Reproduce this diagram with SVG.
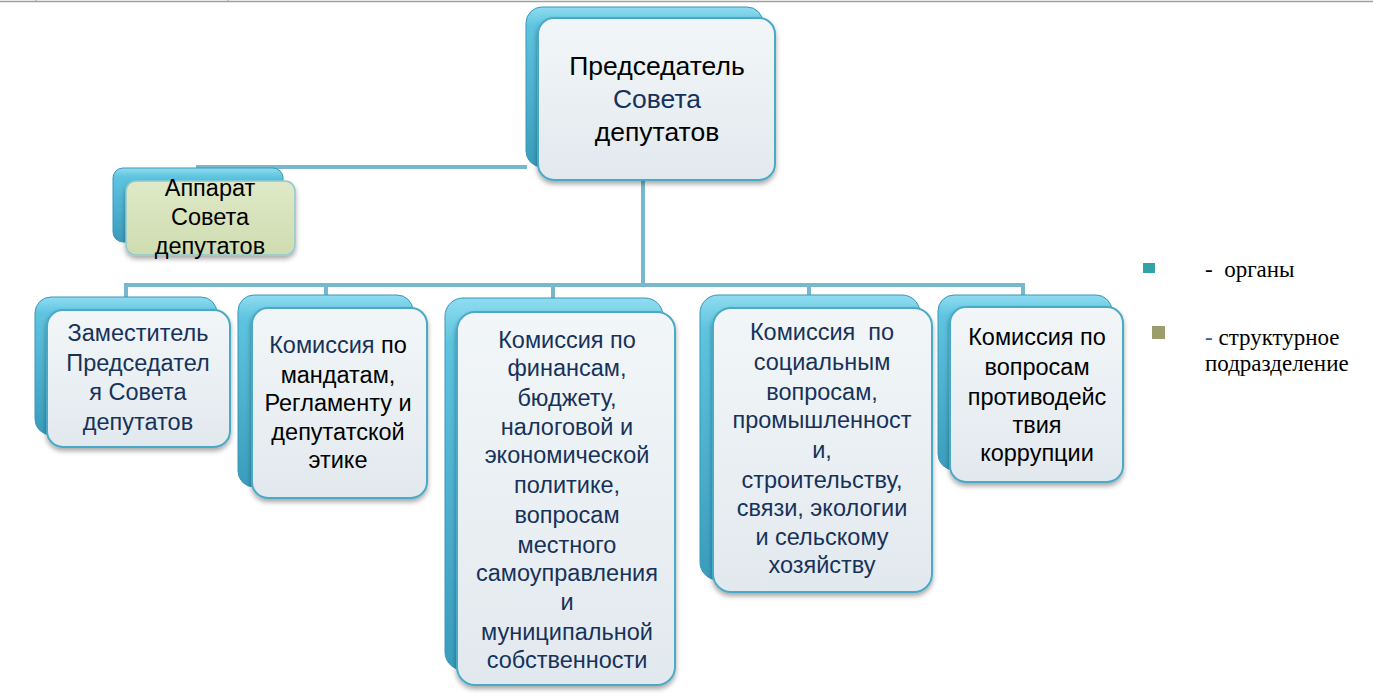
<svg xmlns="http://www.w3.org/2000/svg" width="1373" height="695" viewBox="0 0 1373 695">
<defs>
<linearGradient id="gBack" x1="0" y1="0" x2="0" y2="1">
<stop offset="0" stop-color="#8fdcf0"/>
<stop offset="0.12" stop-color="#5ec4e0"/>
<stop offset="1" stop-color="#3a9cbc"/>
</linearGradient>
<linearGradient id="gFront" x1="0" y1="0" x2="0" y2="1">
<stop offset="0" stop-color="#f2f6f8"/>
<stop offset="1" stop-color="#e2e9ee"/>
</linearGradient>
<linearGradient id="gGreen" x1="0" y1="0" x2="0" y2="1">
<stop offset="0" stop-color="#dfe9c8"/>
<stop offset="1" stop-color="#cfdcb0"/>
</linearGradient>
<filter id="sh" x="-10%" y="-10%" width="120%" height="125%">
<feDropShadow dx="0" dy="3" stdDeviation="2.5" flood-color="#000" flood-opacity="0.35"/>
</filter>
</defs>
<style>
.back{fill:url(#gBack);stroke:#3a97b6;stroke-width:1}
.front{fill:url(#gFront);stroke:#4aaac8;stroke-width:2;filter:url(#sh)}
.green{fill:url(#gGreen);stroke:#8fc9cf;stroke-width:1.5;filter:url(#sh)}
.t{font-family:"Liberation Sans",Arial,sans-serif;font-size:23.5px;text-anchor:middle;fill:#000}
.big{font-size:26.5px}
.navy{fill:#17325a}
.conn{stroke:#78b8cc;stroke-width:4;fill:none}
.lg{font-family:"Liberation Serif","Times New Roman",serif;font-size:23px;fill:#000}
</style>
<line x1="0" y1="1.5" x2="1373" y2="1.5" stroke="#a0a0a0" stroke-width="1.5"/>
<line x1="36" y1="0" x2="36" y2="2" stroke="#a0a0a0" stroke-width="1"/>
<line x1="228" y1="0" x2="228" y2="2" stroke="#a0a0a0" stroke-width="1"/>
<g id="connectors">
<path class="conn" d="M196 167H527"/>
<path class="conn" d="M643 180V285"/>
<path class="conn" d="M126 297V285H1023V297"/>
<path class="conn" d="M326 285V297"/>
<path class="conn" d="M553 285V298"/>
<path class="conn" d="M809 285V297"/>
</g>
<g id="chair">
<rect class="back" x="526" y="7" width="237" height="160" rx="16"/>
<rect class="front" x="538" y="18" width="237" height="162" rx="16"/>
<text class="t big" x="657" y="75">Председатель</text>
<text class="t big navy" x="657" y="108">Совета</text>
<text class="t big" x="657" y="141">депутатов</text>
</g>
<g id="apparat">
<rect class="back" x="113" y="168" width="170" height="74" rx="10"/>
<rect class="green" x="126" y="181" width="169" height="74" rx="10"/>
<text class="t" x="210" y="196">Аппарат</text>
<text class="t" x="210" y="225">Совета</text>
<text class="t" x="210" y="254">депутатов</text>
</g>
<g id="deputy">
<rect class="back" x="35" y="297" width="182" height="138" rx="16"/>
<rect class="front" x="47" y="310" width="183" height="137" rx="16"/>
<text class="t navy" x="138" y="341">Заместитель</text>
<text class="t navy" x="138" y="371">Председател</text>
<text class="t navy" x="138" y="400">я Совета</text>
<text class="t navy" x="138" y="430">депутатов</text>
</g>
<g id="mandates">
<rect class="back" x="238" y="295" width="175" height="192" rx="16"/>
<rect class="front" x="252" y="308" width="175" height="190" rx="16"/>
<text class="t" x="338" y="353"><tspan class="navy">Комиссия</tspan> по</text>
<text class="t" x="338" y="383">мандатам,</text>
<text class="t" x="338" y="411">Регламенту и</text>
<text class="t" x="338" y="440">депутатской</text>
<text class="t" x="338" y="468">этике</text>
</g>
<g id="finance">
<rect class="back" x="445" y="298" width="218" height="372" rx="18"/>
<rect class="front" x="457" y="312" width="218" height="373" rx="18"/>
<text class="t navy" x="567" y="348">Комиссия по</text>
<text class="t navy" x="567" y="376">финансам,</text>
<text class="t navy" x="567" y="406">бюджету,</text>
<text class="t navy" x="567" y="435">налоговой и</text>
<text class="t navy" x="567" y="463">экономической</text>
<text class="t navy" x="567" y="493">политике,</text>
<text class="t navy" x="567" y="523">вопросам</text>
<text class="t navy" x="567" y="553">местного</text>
<text class="t navy" x="567" y="581">самоуправления</text>
<text class="t navy" x="567" y="610">и</text>
<text class="t navy" x="567" y="640">муниципальной</text>
<text class="t navy" x="567" y="668">собственности</text>
</g>
<g id="social">
<rect class="back" x="700" y="295" width="220" height="285" rx="18"/>
<rect class="front" x="713" y="308" width="219" height="284" rx="18"/>
<text class="t navy" x="822" y="340" xml:space="preserve">Комиссия  по</text>
<text class="t navy" x="822" y="370">социальным</text>
<text class="t navy" x="822" y="400">вопросам,</text>
<text class="t navy" x="822" y="428">промышленност</text>
<text class="t navy" x="822" y="458">и,</text>
<text class="t navy" x="822" y="488">строительству,</text>
<text class="t navy" x="822" y="516">связи, экологии</text>
<text class="t navy" x="822" y="545">и сельскому</text>
<text class="t navy" x="822" y="573">хозяйству</text>
</g>
<g id="corruption">
<rect class="back" x="938" y="295" width="174" height="175" rx="16"/>
<rect class="front" x="950" y="307" width="173" height="175" rx="16"/>
<text class="t" x="1037" y="345">Комиссия по</text>
<text class="t" x="1037" y="375">вопросам</text>
<text class="t" x="1037" y="405">противодейс</text>
<text class="t" x="1037" y="433">твия</text>
<text class="t" x="1037" y="461">коррупции</text>
</g>
<g id="legend">
<rect x="1143" y="263" width="12" height="10" fill="#2fa3a8"/>
<rect x="1152" y="326" width="13" height="13" fill="#9c9c6c"/>
<text class="lg" x="1205" y="277" xml:space="preserve">-  органы</text>
<text class="lg" x="1205" y="345"><tspan fill="#2e5d9a">-</tspan> структурное</text>
<text class="lg" x="1205" y="371">подразделение</text>
</g>
</svg>
